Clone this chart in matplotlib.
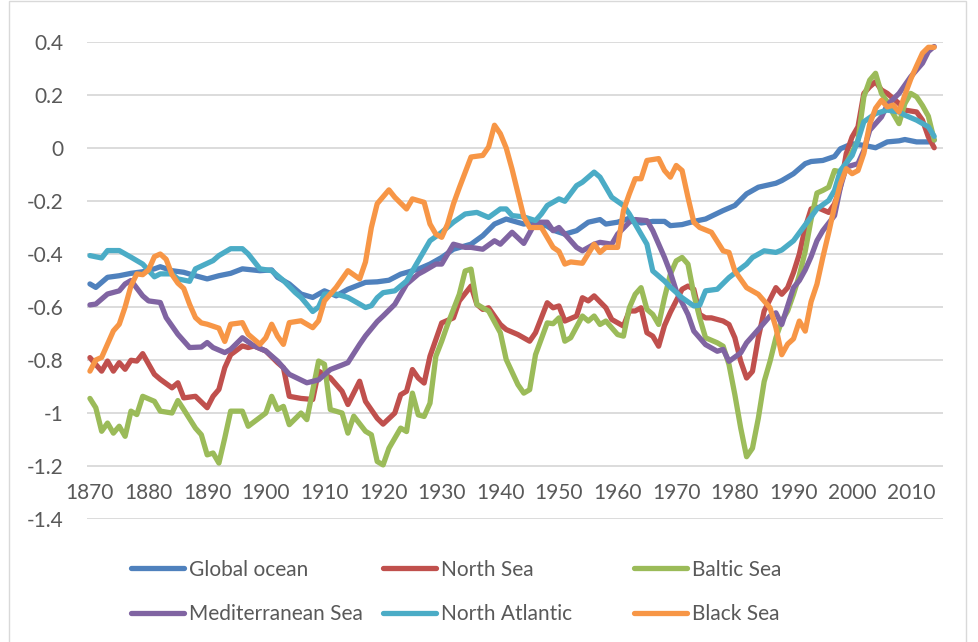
import matplotlib
matplotlib.use("Agg")
import matplotlib.pyplot as plt
from matplotlib.lines import Line2D

# Values (sea surface temperature anomaly)
global_years = [1870, 1871, 1873, 1875, 1877, 1879, 1881, 1882, 1884, 1886, 1888, 1890, 1892, 1894,
                1896, 1899, 1901, 1902, 1904, 1906, 1908, 1910, 1912, 1914, 1917, 1919, 1921, 1923,
                1926, 1928, 1930, 1932, 1935, 1937, 1939, 1941, 1944, 1946, 1948, 1949, 1951, 1953,
                1955, 1957, 1958, 1960, 1962, 1964, 1966, 1968, 1969, 1971, 1973, 1975, 1978, 1980,
                1982, 1984, 1987, 1988, 1990, 1992, 1993, 1995, 1997, 1998, 2000, 2002, 2004, 2006,
                2008, 2009, 2011, 2013, 2014]
global_vals = [-0.513, -0.526, -0.488, -0.482, -0.473, -0.467, -0.456, -0.448, -0.463, -0.469, -0.482,
               -0.494, -0.482, -0.473, -0.456, -0.463, -0.46, -0.488, -0.513, -0.551, -0.564, -0.539,
               -0.558, -0.533, -0.507, -0.505, -0.499, -0.476, -0.457, -0.438, -0.413, -0.382, -0.363,
               -0.331, -0.287, -0.268, -0.287, -0.28, -0.295, -0.31, -0.325, -0.312, -0.28, -0.27,
               -0.287, -0.28, -0.265, -0.283, -0.277, -0.277, -0.293, -0.289, -0.277, -0.268, -0.236,
               -0.217, -0.173, -0.148, -0.133, -0.123, -0.097, -0.059, -0.051, -0.047, -0.032, -0.003,
               0.016, 0.01, 0.001, 0.023, 0.027, 0.032, 0.023, 0.023, 0.03]

north_sea_years = [1870, 1871, 1872, 1873, 1874, 1875, 1876, 1877, 1878, 1879, 1881, 1882, 1884, 1885,
                   1886, 1888, 1890, 1891, 1892, 1893, 1894, 1896, 1897, 1898, 1900, 1902, 1903, 1904,
                   1906, 1908, 1909, 1911, 1913, 1914, 1916, 1917, 1919, 1920, 1922, 1923, 1924, 1925,
                   1926, 1927, 1928, 1930, 1932, 1933, 1935, 1936, 1937, 1938, 1940, 1941, 1943, 1945,
                   1946, 1948, 1949, 1950, 1951, 1953, 1954, 1955, 1956, 1958, 1959, 1961, 1962, 1963,
                   1964, 1965, 1966, 1967, 1968, 1969, 1971, 1972, 1973, 1974, 1975, 1976, 1978, 1979,
                   1980, 1981, 1982, 1983, 1984, 1985, 1987, 1988, 1989, 1990, 1991, 1992, 1993, 1994,
                   1996, 1997, 1998, 1999, 2000, 2001, 2002, 2003, 2004, 2005, 2006, 2008, 2009, 2011,
                   2012, 2013, 2014]
north_sea_vals = [-0.791, -0.817, -0.842, -0.804, -0.842, -0.81, -0.835, -0.801, -0.804, -0.776, -0.854,
                  -0.873, -0.905, -0.886, -0.943, -0.937, -0.98, -0.937, -0.911, -0.829, -0.78, -0.747,
                  -0.753, -0.747, -0.766, -0.81, -0.829, -0.937, -0.945, -0.949, -0.842, -0.867, -0.918,
                  -0.968, -0.88, -0.956, -1.02, -1.042, -1.0, -0.931, -0.918, -0.836, -0.868, -0.887,
                  -0.786, -0.66, -0.641, -0.577, -0.521, -0.59, -0.609, -0.603, -0.666, -0.685, -0.704,
                  -0.729, -0.697, -0.584, -0.603, -0.596, -0.653, -0.634, -0.565, -0.577, -0.558, -0.603,
                  -0.647, -0.672, -0.615, -0.615, -0.603, -0.697, -0.71, -0.748, -0.67, -0.62, -0.533,
                  -0.521, -0.533, -0.628, -0.641, -0.641, -0.653, -0.666, -0.716, -0.805, -0.868, -0.843,
                  -0.716, -0.615, -0.527, -0.552, -0.527, -0.47, -0.40, -0.30, -0.23, -0.224, -0.243,
                  -0.211, -0.148, -0.021, 0.042, 0.08, 0.206, 0.231, 0.25, 0.219, 0.206, 0.168, 0.143,
                  0.136, 0.105, 0.042, 0.001]

baltic_years = [1870, 1871, 1872, 1873, 1874, 1875, 1876, 1877, 1878, 1879, 1881, 1882, 1884, 1885,
                1886, 1888, 1889, 1890, 1891, 1892, 1893, 1894, 1896, 1897, 1900, 1901, 1902, 1903,
                1904, 1906, 1907, 1909, 1910, 1911, 1913, 1914, 1915, 1917, 1918, 1919, 1920, 1921,
                1923, 1924, 1925, 1926, 1927, 1928, 1929, 1930, 1931, 1933, 1934, 1935, 1936, 1937,
                1938, 1940, 1941, 1943, 1944, 1945, 1946, 1948, 1949, 1950, 1951, 1952, 1954, 1955,
                1956, 1957, 1958, 1960, 1961, 1962, 1963, 1964, 1965, 1966, 1967, 1968, 1969, 1970,
                1971, 1972, 1973, 1974, 1975, 1977, 1978, 1979, 1980, 1981, 1982, 1983, 1984, 1985,
                1986, 1987, 1988, 1989, 1990, 1991, 1992, 1993, 1994, 1995, 1996, 1997, 1998, 1999,
                2001, 2002, 2003, 2004, 2005, 2006, 2007, 2008, 2009, 2010, 2011, 2012, 2013, 2014]
baltic_vals = [-0.945, -0.98, -1.069, -1.038, -1.076, -1.05, -1.088, -0.993, -1.006, -0.937, -0.956,
               -0.993, -1.0, -0.953, -0.987, -1.057, -1.082, -1.158, -1.151, -1.189, -1.094, -0.993,
               -0.993, -1.05, -1.0, -0.937, -0.987, -0.975, -1.044, -1.0, -1.025, -0.804, -0.816,
               -0.987, -1.0, -1.076, -1.012, -1.069, -1.082, -1.183, -1.196, -1.133, -1.057, -1.07,
               -0.925, -1.007, -1.013, -0.963, -0.786, -0.729, -0.666, -0.552, -0.464, -0.457, -0.59,
               -0.603, -0.615, -0.697, -0.798, -0.893, -0.925, -0.912, -0.78, -0.66, -0.663, -0.641,
               -0.729, -0.716, -0.634, -0.653, -0.634, -0.666, -0.653, -0.704, -0.71, -0.603, -0.552,
               -0.527, -0.609, -0.628, -0.666, -0.565, -0.476, -0.426, -0.413, -0.438, -0.552, -0.641,
               -0.716, -0.735, -0.748, -0.817, -0.931, -1.057, -1.165, -1.133, -1.02, -0.881, -0.805,
               -0.716, -0.653, -0.615, -0.552, -0.48, -0.39, -0.27, -0.17, -0.16, -0.148, -0.085,
               -0.09, -0.059, 0.029, 0.193, 0.256, 0.282, 0.206, 0.174, 0.13, 0.092, 0.168, 0.206,
               0.193, 0.16, 0.12, 0.03]

med_years = [1870, 1871, 1873, 1875, 1876, 1877, 1879, 1880, 1882, 1883, 1885, 1887, 1889, 1890,
             1891, 1893, 1894, 1896, 1898, 1900, 1902, 1904, 1907, 1909, 1911, 1913, 1914, 1916,
             1917, 1919, 1920, 1922, 1924, 1926, 1927, 1929, 1930, 1932, 1934, 1935, 1937, 1939,
             1940, 1942, 1944, 1946, 1948, 1949, 1950, 1951, 1953, 1954, 1956, 1957, 1959, 1960,
             1962, 1963, 1965, 1966, 1968, 1969, 1970, 1972, 1973, 1975, 1977, 1978, 1979, 1981,
             1982, 1984, 1986, 1987, 1988, 1990, 1991, 1992, 1993, 1994, 1995, 1997, 1998, 1999,
             2001, 2002, 2003, 2005, 2006, 2008, 2010, 2012, 2013, 2014]
med_vals = [-0.592, -0.589, -0.551, -0.539, -0.513, -0.50, -0.558, -0.577, -0.583, -0.64, -0.703,
            -0.753, -0.751, -0.734, -0.753, -0.772, -0.76, -0.716, -0.747, -0.766, -0.804, -0.854,
            -0.886, -0.875, -0.836, -0.819, -0.81, -0.741, -0.709, -0.655, -0.634, -0.59, -0.514,
            -0.476, -0.464, -0.438, -0.438, -0.363, -0.375, -0.375, -0.382, -0.35, -0.363, -0.318,
            -0.36, -0.28, -0.28, -0.312, -0.30, -0.325, -0.375, -0.388, -0.363, -0.356, -0.363,
            -0.325, -0.28, -0.27, -0.274, -0.312, -0.413, -0.47, -0.539, -0.628, -0.691, -0.742,
            -0.767, -0.76, -0.805, -0.773, -0.735, -0.685, -0.634, -0.622, -0.666, -0.527, -0.50,
            -0.46, -0.41, -0.35, -0.312, -0.255, -0.148, -0.072, -0.059, -0.009, 0.067, 0.117,
            0.162, 0.206, 0.269, 0.32, 0.364, 0.383]

atlantic_years = [1870, 1872, 1873, 1875, 1877, 1879, 1881, 1882, 1884, 1885, 1887, 1888, 1891, 1892,
                  1894, 1896, 1897, 1899, 1901, 1903, 1905, 1906, 1907, 1908, 1909, 1910, 1912, 1914,
                  1916, 1917, 1918, 1919, 1920, 1922, 1924, 1926, 1928, 1930, 1932, 1934, 1936, 1938,
                  1940, 1941, 1942, 1944, 1946, 1947, 1948, 1950, 1951, 1953, 1954, 1956, 1957, 1959,
                  1961, 1962, 1963, 1965, 1966, 1968, 1969, 1971, 1973, 1974, 1975, 1977, 1979, 1982,
                  1983, 1985, 1987, 1988, 1990, 1992, 1994, 1996, 1997, 1998, 2000, 2001, 2002, 2004,
                  2006, 2008, 2009, 2011, 2013, 2014]
atlantic_vals = [-0.406, -0.415, -0.387, -0.387, -0.412, -0.438, -0.486, -0.475, -0.475, -0.494, -0.503,
                 -0.456, -0.425, -0.406, -0.38, -0.38, -0.40, -0.456, -0.463, -0.50, -0.545, -0.564,
                 -0.59, -0.617, -0.60, -0.551, -0.551, -0.564, -0.589, -0.602, -0.595, -0.565, -0.546,
                 -0.539, -0.502, -0.426, -0.35, -0.318, -0.28, -0.249, -0.243, -0.262, -0.23, -0.23,
                 -0.255, -0.26, -0.274, -0.249, -0.217, -0.192, -0.201, -0.142, -0.129, -0.091, -0.11,
                 -0.186, -0.217, -0.249, -0.287, -0.363, -0.464, -0.502, -0.525, -0.565, -0.596, -0.593,
                 -0.539, -0.533, -0.489, -0.438, -0.413, -0.388, -0.394, -0.385, -0.35, -0.29, -0.23,
                 -0.198, -0.16, -0.085, -0.028, 0.029, 0.099, 0.13, 0.143, 0.136, 0.124, 0.105, 0.08,
                 0.044]

black_years = [1870, 1871, 1872, 1873, 1874, 1875, 1876, 1877, 1878, 1879, 1880, 1881, 1882, 1883,
               1884, 1885, 1886, 1887, 1888, 1889, 1890, 1892, 1893, 1894, 1896, 1897, 1899, 1900,
               1901, 1902, 1903, 1904, 1906, 1908, 1909, 1910, 1912, 1914, 1916, 1917, 1918, 1919,
               1921, 1922, 1924, 1925, 1927, 1928, 1929, 1930, 1931, 1932, 1933, 1935, 1937, 1938,
               1939, 1940, 1941, 1942, 1943, 1944, 1945, 1947, 1949, 1950, 1951, 1952, 1954, 1956,
               1957, 1958, 1960, 1961, 1962, 1963, 1964, 1965, 1967, 1968, 1969, 1970, 1971, 1972,
               1973, 1974, 1976, 1978, 1979, 1980, 1982, 1984, 1986, 1987, 1988, 1989, 1990, 1991,
               1992, 1993, 1994, 1995, 1996, 1997, 1998, 1999, 2000, 2001, 2002, 2003, 2004, 2005,
               2006, 2007, 2008, 2009, 2010, 2011, 2012, 2013, 2014]
black_vals = [-0.842, -0.80, -0.79, -0.74, -0.69, -0.665, -0.60, -0.52, -0.475, -0.478, -0.46, -0.41,
              -0.40, -0.42, -0.478, -0.51, -0.53, -0.59, -0.64, -0.66, -0.665, -0.68, -0.73, -0.665,
              -0.659, -0.703, -0.741, -0.716, -0.665, -0.71, -0.741, -0.659, -0.652, -0.678, -0.652,
              -0.577, -0.526, -0.463, -0.494, -0.43, -0.30, -0.21, -0.158, -0.186, -0.23, -0.192,
              -0.205, -0.287, -0.325, -0.337, -0.287, -0.211, -0.15, -0.034, -0.028, 0.004, 0.086,
              0.054, 0.0, -0.08, -0.17, -0.26, -0.30, -0.30, -0.375, -0.39, -0.438, -0.43, -0.435,
              -0.363, -0.394, -0.375, -0.375, -0.236, -0.173, -0.116, -0.116, -0.047, -0.04, -0.085,
              -0.11, -0.066, -0.085, -0.186, -0.28, -0.30, -0.318, -0.388, -0.394, -0.464, -0.527,
              -0.552, -0.603, -0.678, -0.78, -0.74, -0.72, -0.653, -0.691, -0.58, -0.514, -0.413,
              -0.32, -0.22, -0.135, -0.078, -0.097, -0.085, -0.02, 0.09, 0.15, 0.18, 0.155, 0.162,
              0.136, 0.2, 0.26, 0.31, 0.358, 0.38, 0.38]

series_names = ['Global ocean', 'North Sea', 'Baltic Sea', 'Mediterranean Sea', 'North Atlantic', 'Black Sea']
series_colors = ['#4F81BD', '#C0504D', '#9BBB59', '#8064A2', '#4BACC6', '#F79646']
series_data = [(global_years, global_vals), (north_sea_years, north_sea_vals),
               (baltic_years, baltic_vals), (med_years, med_vals),
               (atlantic_years, atlantic_vals), (black_years, black_vals)]

x_ticks = list(range(1870, 2011, 10))
y_ticks = [0.4, 0.2, 0, -0.2, -0.4, -0.6, -0.8, -1, -1.2, -1.4]
y_labels = ['0.4', '0.2', '0', '-0.2', '-0.4', '-0.6', '-0.8', '-1', '-1.2', '-1.4']

plt.rcParams['font.family'] = 'Lato'
text_color = '#595959'
grid_color = '#D9D9D9'
font_size = 15

fig = plt.figure(figsize=(9.79, 6.42), dpi=100)
ax = fig.add_axes([87 / 979, 1 - 519 / 642, (943 - 87) / 979, (519 - 42) / 642])

for (yrs, vals), color in zip(series_data, series_colors):
    ax.plot(yrs, vals, color=color, linewidth=3.8,
            solid_joinstyle='round', solid_capstyle='round')

ax.set_xlim(1869.5, 2015.5)
ax.set_ylim(-1.4, 0.4)
ax.set_yticks(y_ticks)
ax.set_yticklabels(y_labels)
ax.set_xticks(x_ticks)
ax.set_xticklabels([str(y) for y in x_ticks])
ax.grid(True, axis='y', color=grid_color, linewidth=1.3)
ax.set_axisbelow(True)

# category axis crosses at -1.2, like in the spreadsheet
ax.spines['bottom'].set_position(('data', -1.2))
for side in ['top', 'right', 'left', 'bottom']:
    ax.spines[side].set_visible(False)
ax.tick_params(axis='both', length=0, labelsize=font_size, labelcolor=text_color)
ax.tick_params(axis='y', pad=17)
ax.tick_params(axis='x', pad=12)

# legend: three equal columns with two rows each
columns = [[0, 3], [1, 4], [2, 5]]
col_x = [131 / 979, 383 / 979, 634 / 979]
for idx, cx in zip(columns, col_x):
    handles = [Line2D([0], [0], color=series_colors[i], linewidth=3.8, solid_capstyle='round')
               for i in idx]
    leg = fig.legend(handles, [series_names[i] for i in idx], loc='center left',
                     bbox_to_anchor=(cx, 1 - 592 / 642), frameon=False, fontsize=font_size,
                     handlelength=2.55, handletextpad=0.25, borderpad=0, borderaxespad=0,
                     labelspacing=1.2, labelcolor=text_color)

# chart border
fig.add_artist(plt.Rectangle((9 / 979, -0.01), (966 - 9) / 979, 1.008, fill=False,
                             edgecolor=grid_color, linewidth=1, transform=fig.transFigure))

fig.savefig('out.png', dpi=100)
